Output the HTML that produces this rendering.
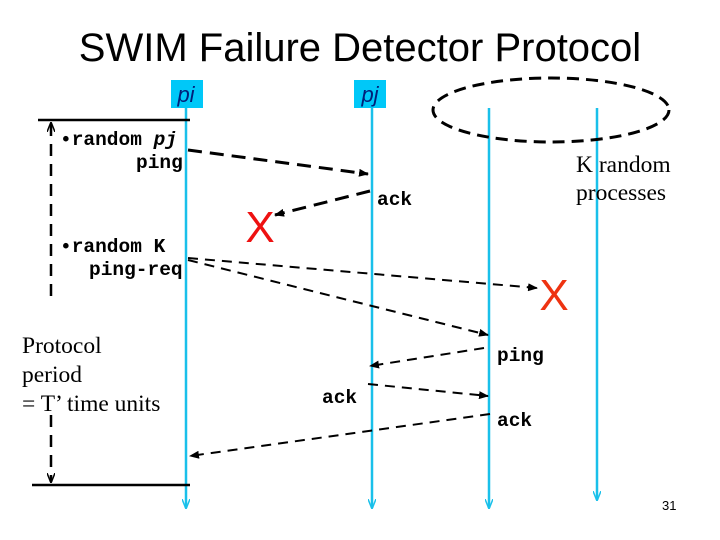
<!DOCTYPE html>
<html><head><meta charset="utf-8"><style>
body{margin:0;background:#fff}
svg{display:block}
.m{font-family:"Liberation Mono",monospace;font-weight:bold;font-size:19.5px}
.s{font-family:"Liberation Serif",serif;font-size:23.5px}
</style></head><body>
<svg width="720" height="540" xmlns="http://www.w3.org/2000/svg">
<defs>
<marker id="a" markerWidth="10" markerHeight="8" refX="9" refY="4" orient="auto" markerUnits="userSpaceOnUse"><path d="M0,0 L10,4 L0,8 Z" fill="#000"/></marker>
<marker id="c" markerWidth="10" markerHeight="8" refX="9" refY="4" orient="auto" markerUnits="userSpaceOnUse"><path d="M0,0 L10,4 L0,8" fill="none" stroke="#19c0ea" stroke-width="1.5"/></marker>
<marker id="v" markerWidth="10" markerHeight="8" refX="9" refY="4" orient="auto" markerUnits="userSpaceOnUse"><path d="M0,0 L10,4 L0,8" fill="none" stroke="#000" stroke-width="1.5"/></marker>
</defs>
<text x="360" y="61" text-anchor="middle" font-family="Liberation Sans,sans-serif" font-size="40">SWIM Failure Detector Protocol</text>
<rect x="171" y="80" width="32" height="28" fill="#00c8f8"/>
<rect x="354" y="80" width="32" height="28" fill="#00c8f8"/>
<text x="186" y="102" text-anchor="middle" font-family="Liberation Sans,sans-serif" font-style="italic" font-size="22" fill="#00207a">pi</text>
<text x="370" y="102" text-anchor="middle" font-family="Liberation Sans,sans-serif" font-style="italic" font-size="22" fill="#00207a">pj</text>
<g stroke="#19c0ea" stroke-width="2.5">
<line x1="186" y1="108" x2="186" y2="508" marker-end="url(#c)"/>
<line x1="372" y1="108" x2="372" y2="508" marker-end="url(#c)"/>
<line x1="489" y1="108" x2="489" y2="508" marker-end="url(#c)"/>
<line x1="597" y1="108" x2="597" y2="500" marker-end="url(#c)"/>
</g>
<ellipse cx="551" cy="110" rx="118" ry="32" fill="none" stroke="#000" stroke-width="3" stroke-dasharray="12,7"/>
<line x1="38" y1="120" x2="190" y2="120" stroke="#000" stroke-width="2.5"/>
<line x1="32" y1="485" x2="190" y2="485" stroke="#000" stroke-width="2.5"/>
<line x1="51" y1="296" x2="51" y2="123" stroke="#000" stroke-width="2.5" stroke-dasharray="12,8" marker-end="url(#v)"/>
<line x1="51" y1="415" x2="51" y2="482" stroke="#000" stroke-width="2.5" stroke-dasharray="12,8" marker-end="url(#v)"/>
<g class="m">
<text x="60" y="145">•random <tspan font-style="italic">pj</tspan></text>
<text x="136" y="168">ping</text>
<text x="60" y="252">•random K</text>
<text x="89" y="275">ping-req</text>
<text x="377" y="205">ack</text>
<text x="497" y="361">ping</text>
<text x="322" y="403">ack</text>
<text x="497" y="426">ack</text>
</g>
<g stroke="#000" fill="none">
<line x1="188" y1="150" x2="368" y2="174" stroke-width="3" stroke-dasharray="14,8" marker-end="url(#a)"/>
<line x1="370" y1="191" x2="275" y2="215" stroke-width="3" stroke-dasharray="14,8" marker-end="url(#a)"/>
<line x1="188" y1="258" x2="537" y2="288" stroke-width="2" stroke-dasharray="10,7" marker-end="url(#a)"/>
<line x1="188" y1="260" x2="488" y2="335" stroke-width="2" stroke-dasharray="10,7" marker-end="url(#a)"/>
<line x1="484" y1="348" x2="370" y2="366" stroke-width="2" stroke-dasharray="10,7" marker-end="url(#a)"/>
<line x1="368" y1="384" x2="488" y2="396" stroke-width="2" stroke-dasharray="10,7" marker-end="url(#a)"/>
<line x1="490" y1="414" x2="190" y2="456" stroke-width="2" stroke-dasharray="10,7" marker-end="url(#a)"/>
</g>
<text x="260" y="242" text-anchor="middle" font-family="Liberation Sans,sans-serif" font-size="44" fill="#ee1111">X</text>
<text x="554" y="310" text-anchor="middle" font-family="Liberation Sans,sans-serif" font-size="44" fill="#ee3311">X</text>
<text x="576" y="172" class="s">K random</text>
<text x="576" y="200" class="s">processes</text>
<text x="22" y="353" class="s">Protocol</text>
<text x="22" y="382" class="s">period</text>
<text x="22" y="411" class="s">= T’ time units</text>
<text x="662" y="510" font-family="Liberation Sans,sans-serif" font-size="13">31</text>
</svg>
</body></html>
